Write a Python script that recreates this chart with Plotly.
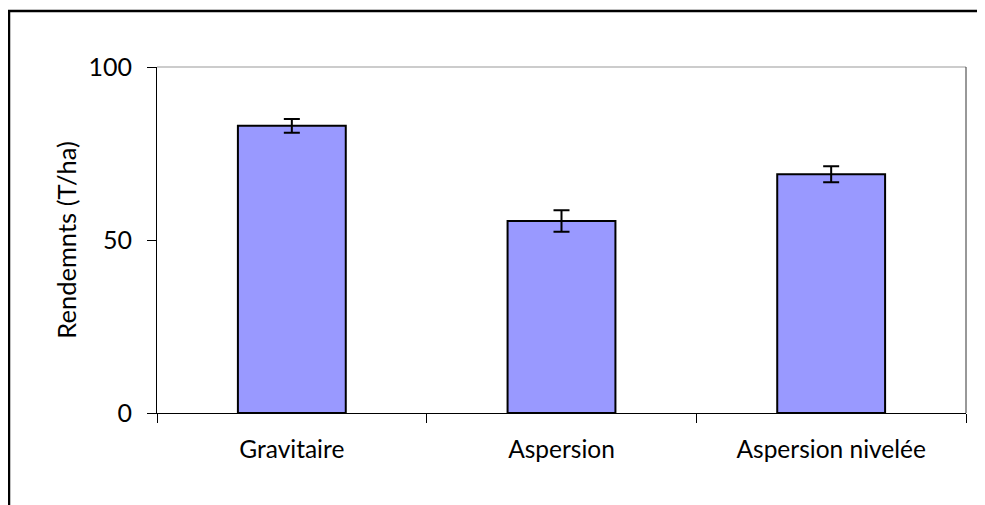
import plotly.graph_objects as go

categories = ["Gravitaire", "Aspersion", "Aspersion nivelée"]
rendements = [83.0, 55.5, 69.0]
erreurs = [2.0, 3.1, 2.3]
y_ticks = [0, 50, 100]

# page body adds an 8px offset; figure coordinates below are screen - 8
W, H = 977, 497
L, T = 149, 59
R = W - 958
B = H - 405
pw = W - L - R
ph = H - T - B

def px2x(px):
    return (px - L) / pw

def py2y(py):
    return (H - B - py) / ph

FONT = "Lato"

fig = go.Figure()
fig.add_trace(go.Bar(
    x=categories,
    y=rendements,
    marker=dict(color="#9999FF", line=dict(color="black", width=2)),
    error_y=dict(type="data", array=erreurs, visible=True, color="black", thickness=2, width=8),
    width=0.4,
))

fig.update_layout(
    width=W, height=H,
    margin=dict(l=L, r=R, t=T, b=B),
    paper_bgcolor="white", plot_bgcolor="white",
    showlegend=False,
    font=dict(family=FONT, color="black", size=25),
    xaxis=dict(
        showline=True, linecolor="black", linewidth=1,
        ticks="outside", tickson="boundaries", ticklen=9, tickcolor="black",
        tickfont=dict(size=24.5), showgrid=False, ticklabelstandoff=15,
    ),
    yaxis=dict(
        range=[0, 100], tickvals=y_ticks,
        showline=True, linecolor="black", linewidth=1,
        ticks="outside", ticklen=9, tickcolor="black",
        tickfont=dict(size=25), showgrid=False, zeroline=False,
        ticklabelstandoff=10,
        title=dict(text="Rendemnts (T/ha)", font=dict(size=25.5), standoff=4),
    ),
    shapes=[
        dict(type="line", xref="paper", yref="paper", x0=0, x1=1, y0=1, y1=1,
             line=dict(color="#999999", width=1)),
        dict(type="line", xref="paper", yref="paper", x0=1, x1=1, y0=0, y1=1,
             line=dict(color="#333333", width=1)),
        dict(type="rect", xref="paper", yref="paper",
             x0=px2x(1), x1=px2x(1000), y0=py2y(520), y1=py2y(3),
             line=dict(color="black", width=2.5), layer="below"),
    ],
)

fig.write_html("out.html")
